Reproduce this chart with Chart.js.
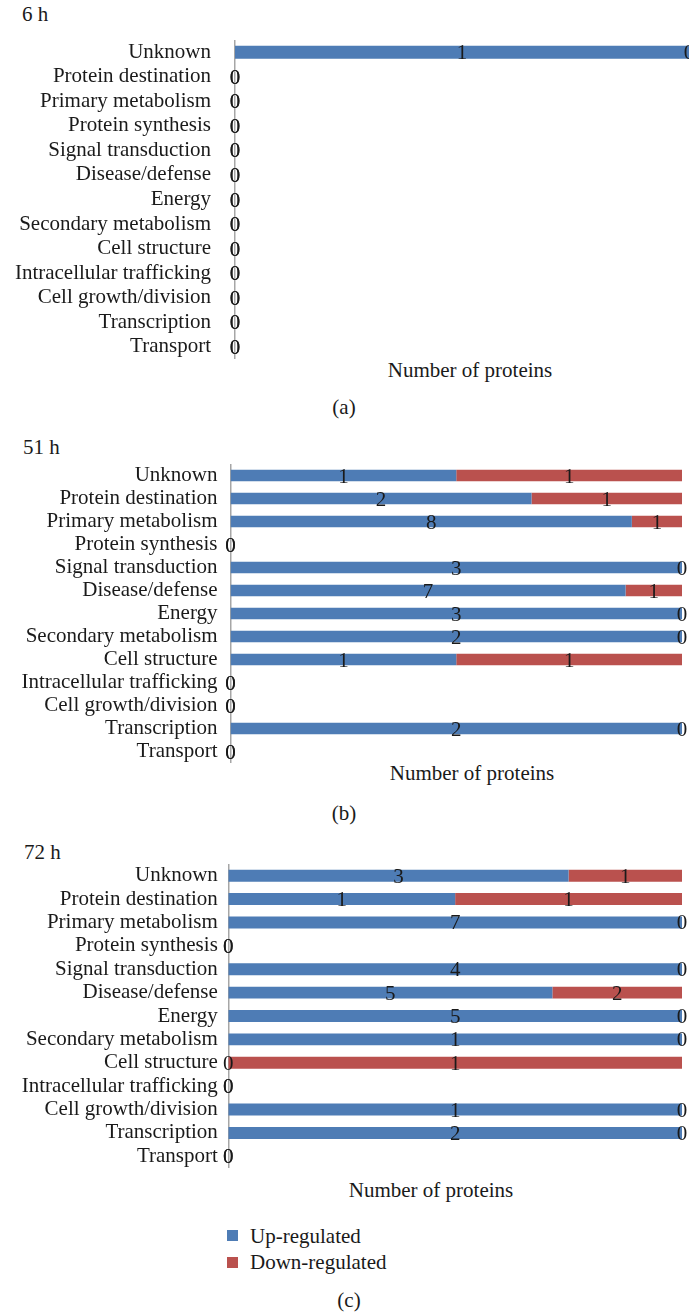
<!DOCTYPE html>
<html>
<head>
<meta charset="utf-8">
<script src="https://cdn.jsdelivr.net/npm/chart.js@4.4.1/dist/chart.umd.min.js"></script>
<style>
  html, body { margin: 0; padding: 0; background: #fff; }
  body { width: 689px; height: 1312px; position: relative; overflow: hidden;
         font-family: "Liberation Serif", "Times New Roman", serif; color: #1a1a1a; }
  .t { position: absolute; font-size: 21px; line-height: 21px; white-space: nowrap; }
  .c { transform: translateX(-50%); }
  canvas { position: absolute; left: 0; }
  .sw { position: absolute; width: 11px; height: 11px; }
</style>
</head>
<body>
<div class="t" style="left:22px; top:4px;">6 h</div>
<div class="t c" style="left:470px; top:360px;">Number of proteins</div>
<div class="t c" style="left:344px; top:397px;">(a)</div>

<div class="t" style="left:23px; top:437px;">51 h</div>
<div class="t c" style="left:472px; top:763px;">Number of proteins</div>
<div class="t c" style="left:344px; top:803px;">(b)</div>

<div class="t" style="left:24px; top:842px;">72 h</div>
<div class="t c" style="left:431px; top:1180px;">Number of proteins</div>
<div class="sw" style="left:227px; top:1230px; background:#4E7CB5;"></div>
<div class="t" style="left:250px; top:1226px;">Up-regulated</div>
<div class="sw" style="left:227px; top:1257px; background:#BA514E;"></div>
<div class="t" style="left:250px; top:1252px;">Down-regulated</div>
<div class="t c" style="left:349px; top:1290px;">(c)</div>

<canvas id="ca"></canvas>
<canvas id="cb"></canvas>
<canvas id="cc"></canvas>

<script>
const categories = ["Unknown", "Protein destination", "Primary metabolism", "Protein synthesis",
  "Signal transduction", "Disease/defense", "Energy", "Secondary metabolism", "Cell structure",
  "Intracellular trafficking", "Cell growth/division", "Transcription", "Transport"];
const seriesNames = ["Up-regulated", "Down-regulated"];

const up6h    = [1, 0, 0, 0, 0, 0, 0, 0, 0, 0, 0, 0, 0];
const down6h  = [0, 0, 0, 0, 0, 0, 0, 0, 0, 0, 0, 0, 0];
const up51h   = [1, 2, 8, 0, 3, 7, 3, 2, 1, 0, 0, 2, 0];
const down51h = [1, 1, 1, 0, 0, 1, 0, 0, 1, 0, 0, 0, 0];
const up72h   = [3, 1, 7, 0, 4, 5, 5, 1, 0, 0, 1, 2, 0];
const down72h = [1, 1, 0, 0, 0, 2, 0, 0, 1, 0, 0, 0, 0];

const BLUE = '#4E7CB5', RED = '#BA514E';
const FONT = '"Liberation Serif", "Times New Roman", serif';

function pct(a, b) {
  return a.map((v, i) => { const t = v + b[i]; return t ? v / t * 100 : 0; });
}

const labelPlugin = {
  id: 'countLabels',
  afterDatasetsDraw(chart) {
    const ctx = chart.ctx;
    ctx.save();
    ctx.font = '21px ' + FONT;
    ctx.fillStyle = '#1a1a1a';
    ctx.textAlign = 'center';
    ctx.textBaseline = 'middle';
    chart.data.datasets.forEach((ds, d) => {
      const meta = chart.getDatasetMeta(d);
      meta.data.forEach((el, i) => {
        const p = el.getProps(['x', 'base', 'y'], true);
        ctx.fillText(String(ds.counts[i]), (p.x + p.base) / 2, p.y + 1.5);
      });
    });
    ctx.restore();
  }
};

function makeChart(id, up, down, cfg) {
  const cv = document.getElementById(id);
  const h = Math.round(cfg.bottom - cfg.top);
  cv.width = 689;
  cv.height = h;
  cv.style.top = cfg.top + 'px';
  cv.style.width = '689px';
  cv.style.height = h + 'px';
  return new Chart(cv, {
    type: 'bar',
    data: {
      labels: categories,
      datasets: [
        { label: seriesNames[0], data: pct(up, down), counts: up, backgroundColor: BLUE,
          barPercentage: cfg.bp, categoryPercentage: 1 },
        { label: seriesNames[1], data: pct(down, up), counts: down, backgroundColor: RED,
          barPercentage: cfg.bp, categoryPercentage: 1 }
      ]
    },
    options: {
      indexAxis: 'y',
      responsive: false,
      animation: false,
      devicePixelRatio: 1,
      layout: { padding: { left: 0, right: cfg.padRight, top: 0, bottom: 0 } },
      plugins: { legend: { display: false }, tooltip: { enabled: false }, title: { display: false } },
      scales: {
        x: { stacked: true, min: 0, max: 100, display: false },
        y: {
          stacked: true,
          grid: { display: false, drawTicks: false },
          border: { display: true, color: '#A6A6A6', width: 1.5 },
          ticks: { color: '#1a1a1a', padding: cfg.tickPad, font: { family: FONT, size: 21 }, autoSkip: false },
          afterFit(scale) { scale.width = cfg.axisX; scale.paddingTop = 0; scale.paddingBottom = 0; }
        }
      }
    },
    plugins: [labelPlugin]
  });
}

makeChart('ca', up6h, down6h,  { top: 40, bottom: 359, axisX: 235, padRight: 0, tickPad: 24, bp: 0.53 });
makeChart('cb', up51h, down51h, { top: 464, bottom: 763, axisX: 230.5, padRight: 7, tickPad: 13, bp: 0.5 });
makeChart('cc', up72h, down72h, { top: 864, bottom: 1168, axisX: 228.3, padRight: 7, tickPad: 10.5, bp: 0.51 });
</script>
</body>
</html>
